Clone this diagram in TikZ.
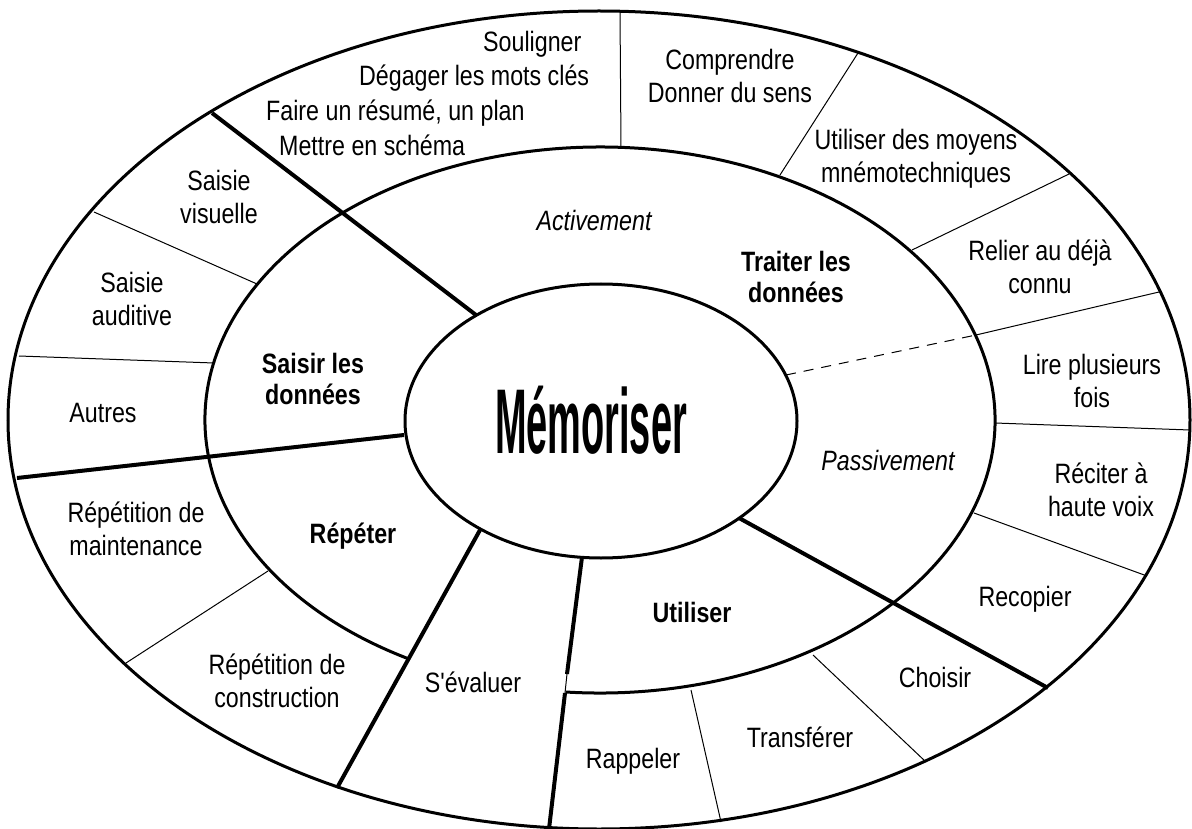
\documentclass[tikz,border=0pt]{standalone}
\usepackage{fontspec}
\setmainfont{Liberation Sans}[FakeStretch=0.83]
\newfontfamily\straightfont{Liberation Sans}[FakeStretch=0.83]
\usepackage{graphicx}
\usepackage{tikz}
\usetikzlibrary{positioning}

\begin{document}
\begin{tikzpicture}[x=1pt,y=-1pt,
    lbl/.style={align=center,inner sep=0pt,font=\fontsize{28}{33}\selectfont},
    blbl/.style={lbl,font=\fontsize{28}{31}\selectfont\bfseries},
    ilbl/.style={lbl,font=\fontsize{28}{33}\selectfont\itshape},
    ring/.style={line width=3pt},
    thickcut/.style={line width=4pt},
    thincut/.style={line width=1pt}]
  \useasboundingbox (0,0) rectangle (1192,829);
  \draw[ring] (599,420) ellipse [x radius=591, y radius=409];
  \draw[ring] (408.5,658.8) arc [start angle=119, end angle=455, x radius=395, y radius=273];
  \draw[ring] (601,421) ellipse [x radius=196, y radius=137];
  \foreach \xa/\ya/\xb/\yb in {620/12/621/147, 858/53/780/175, 1069/174/912/250, 1159/292/976/335,
      1190/430/995/423, 1147/576/974/513, 926/762/813/655, 721/822/691/690,
      126/663/268/571, 19/356/214/363, 94/212/257/284}
    \draw[thincut] (\xa,\ya) -- (\xb,\yb);
  \draw[thickcut] (212,113) -- (476,315);
  \draw[thickcut] (17,478) -- (404,435);
  \draw[thickcut] (480,530) -- (337,788);
  \draw[thickcut] (582,557) -- (567,674);
  \draw[thincut] (567,674) -- (565,693);
  \draw[thickcut] (565,693) -- (549,829);
  \draw[thickcut] (739,518) -- (1048,688);
  \draw[thincut,dash pattern=on 10pt off 8pt] (786,375) -- (976,335);

  \node[font=\fontsize{100}{100}\selectfont\bfseries,anchor=base,inner sep=0pt] (memo) at (591,453) {\scalebox{0.457}[0.92]{Mémoriser}};

  \node[lbl,anchor=base west] (soul) at (483,52) {Souligner};
  \node[lbl,anchor=base west] (mots) at (359,86) {Dégager les mots clés};
  \node[lbl,anchor=base west] (resume) at (266,121) {Faire un résumé, un plan};
  \node[lbl,anchor=base west] (schema) at (279,156) {Mettre en schéma};
  \node[lbl] (sens) at (730,76) {Comprendre\\Donner du sens};
  \node[lbl] (mnemo) at (916,159) {Utiliser des moyens\\mnémotechniques};
  \node[lbl] (relier) at (1040,267) {Relier au déjà\\connu};
  \node[lbl] (lire) at (1092,381) {Lire plusieurs\\fois};
  \node[lbl] (reciter) at (1101,490) {Réciter à\\haute voix};
  \node[lbl] (recop) at (1025,599) {Recopier};
  \node[lbl] (choisir) at (935,677) {Choisir};
  \node[lbl] (transf) at (800,737) {Transférer};
  \node[lbl] (rappel) at (633,761) {Rappeler};
  \node[lbl,font=\fontsize{28}{33}\straightfont] (evaluer) at (473,682) {S'évaluer};
  \node[lbl] (constr) at (277,681) {Répétition de\\construction};
  \node[lbl] (maint) at (136,529) {Répétition de\\maintenance};
  \node[lbl] (autres) at (103,413) {Autres};
  \node[lbl] (audit) at (132,299) {Saisie\\auditive};
  \node[lbl] (visu) at (219,197) {Saisie\\visuelle};

  \node[blbl] (saisir) at (313,379) {Saisir les\\données};
  \node[blbl] (traiter) at (796,277) {Traiter les\\données};
  \node[blbl] (repeter) at (353,536) {Répéter};
  \node[blbl] (utiliser) at (692,612) {Utiliser};
  \node[ilbl] (actif) at (594,220) {Activement};
  \node[ilbl] (passif) at (888,460) {Passivement};
\end{tikzpicture}
\end{document}
